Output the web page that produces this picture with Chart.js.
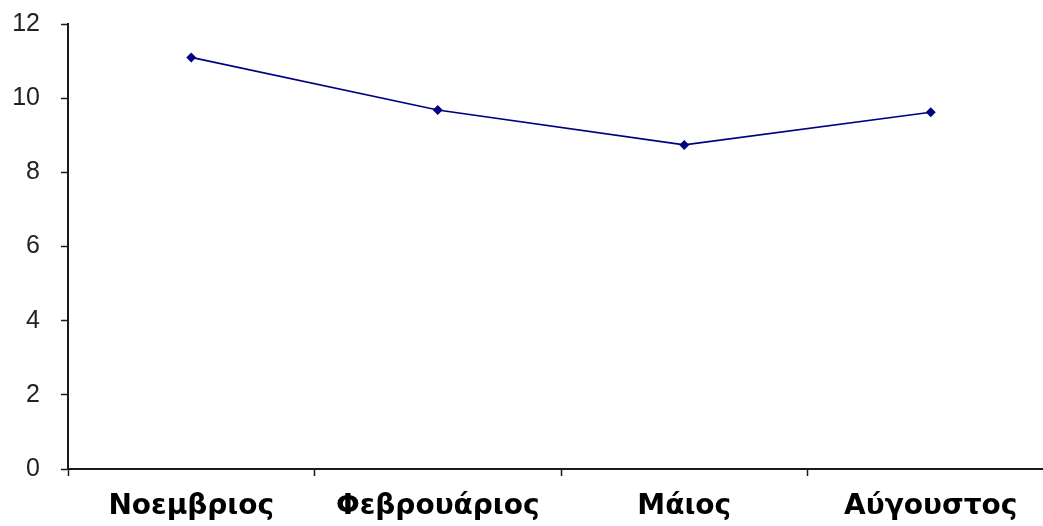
<!DOCTYPE html>
<html>
<head>
<meta charset="utf-8">
<script src="https://cdn.jsdelivr.net/npm/chart.js@4"></script>
<style>
  html, body { margin: 0; padding: 0; background: #fff; overflow: hidden; }
  #wrap { width: 1043px; height: 526px; overflow: hidden; }
</style>
</head>
<body>
<div id="wrap"><canvas id="c" width="1060" height="526"></canvas></div>
<script>
// Season labels along the bottom axis
const months = ['Νοεμβριος', 'Φεβρουάριος', 'Μάιος', 'Αύγουστος'];
// Measured values per season
const values = [11.1, 9.68, 8.74, 9.62];
// Value axis range and step
const yMin = 0;
const yMax = 12;
const yStep = 2;

const axisColor = '#1a1a1a';

new Chart(document.getElementById('c'), {
  type: 'line',
  data: {
    labels: months,
    datasets: [{
      data: values,
      borderColor: '#000080',
      backgroundColor: '#000080',
      borderWidth: 1.6,
      pointStyle: 'rectRot',
      pointRadius: 5,
      pointHoverRadius: 5,
      pointBackgroundColor: '#000080',
      pointBorderColor: '#000080',
      pointBorderWidth: 0,
      tension: 0,
      fill: false
    }]
  },
  options: {
    responsive: false,
    animation: false,
    events: [],
    layout: { padding: { top: 24, right: 6, left: 0, bottom: 0 } },
    plugins: { legend: { display: false }, tooltip: { enabled: false } },
    scales: {
      x: {
        offset: true,
        grid: {
          offset: true,
          drawOnChartArea: false,
          drawTicks: true,
          tickLength: 7,
          tickColor: axisColor,
          tickWidth: 1.5
        },
        border: { display: true, color: axisColor, width: 2 },
        ticks: {
          autoSkip: false,
          maxRotation: 0,
          minRotation: 0,
          padding: 14,
          color: '#000',
          font: { family: 'DejaVu Sans', size: 28, weight: 'bold' }
        },
        afterFit: (s) => { s.height = 57; }
      },
      y: {
        min: yMin,
        max: yMax,
        grid: {
          drawOnChartArea: false,
          drawTicks: true,
          tickLength: 7,
          tickColor: axisColor,
          tickWidth: 1.5
        },
        border: { display: true, color: axisColor, width: 2 },
        ticks: {
          stepSize: yStep,
          padding: 21,
          color: '#222',
          font: { family: 'Liberation Sans', size: 25 }
        },
        afterFit: (s) => {
          s.width = 68;
          // keep the label gap from inflating the top/bottom reserve
          s.paddingTop = 12;
          s.paddingBottom = 12;
        }
      }
    }
  }
});
</script>
</body>
</html>
